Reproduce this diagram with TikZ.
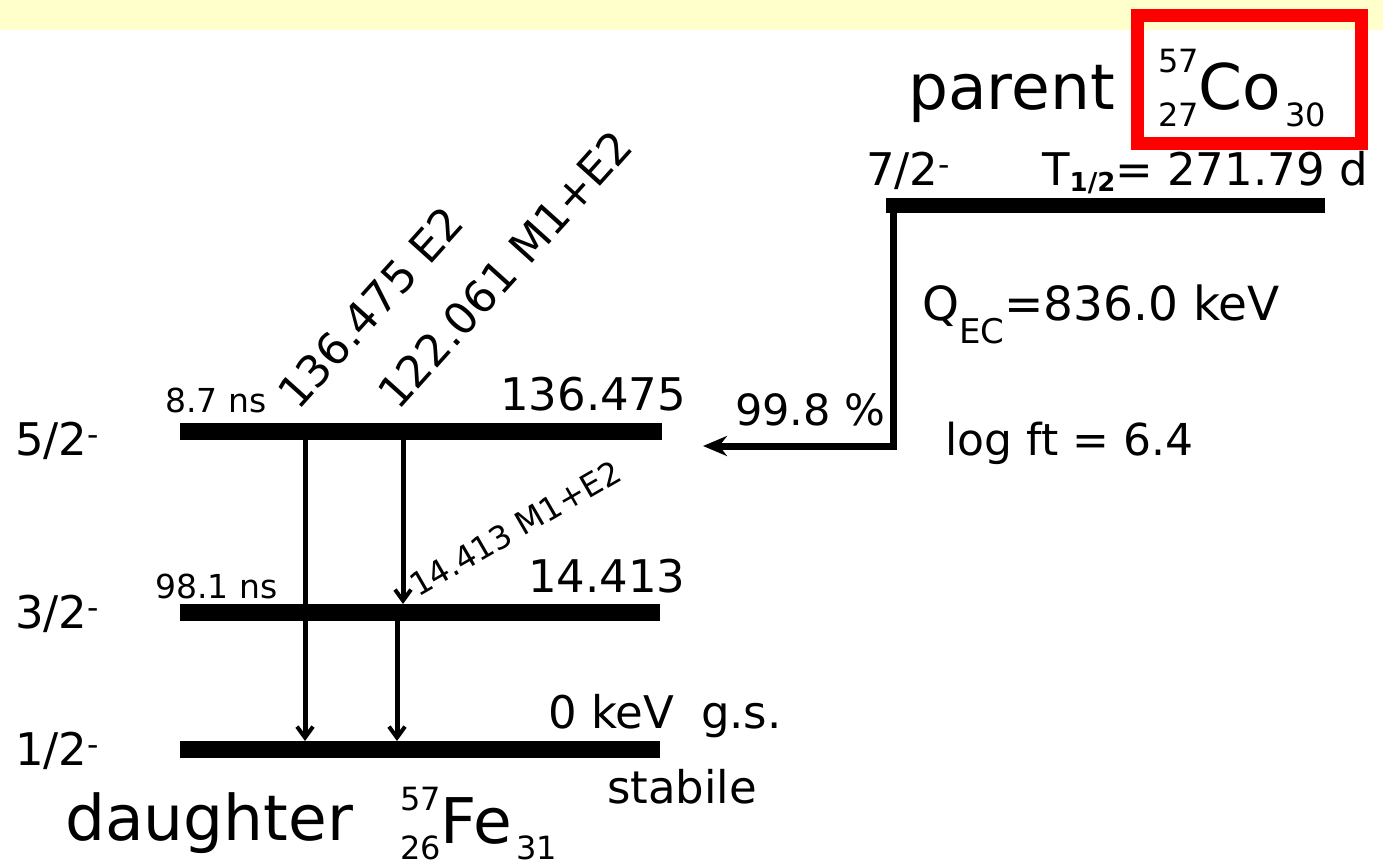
\documentclass[tikz,border=0pt]{standalone}
\usepackage{fontspec}
\setmainfont{DejaVu Sans}
\usetikzlibrary{arrows.meta}
\definecolor{notebg}{HTML}{FFFFCC}
\definecolor{markred}{HTML}{FF0000}
\newcommand\fsz[1]{\fontsize{#1}{#1}\selectfont}
% mass number, charge number, symbol, neutron number
\newcommand\nucl[5]{\rlap{\raisebox{#5em}{\fsz{32}#1}}\raisebox{-0.26em}{\fsz{32}#2}#3\raisebox{-0.26em}{\fsz{32}\hspace{0.12em}#4}}

\begin{document}
\begin{tikzpicture}[x=1pt, y=-1pt,
  level/.style={line width=17pt},
  gamma/.style={line width=5pt, -{Straight Barb[length=11pt, width=16pt, line width=4pt]}},
  lbl/.style={anchor=base west, inner sep=0pt, font=\fsz{45}},
  small/.style={anchor=base west, inner sep=0pt, font=\fsz{33}},
  big/.style={anchor=base west, inner sep=0pt, font=\fsz{63}}]

\useasboundingbox (0,0) rectangle (1383,864);
\fill[notebg] (0,0) rectangle (1383,30);

% parent
\node[big] (par) at (908,110) {parent};
\node[big] (co) at (1158,110) {\nucl{57}{27}{Co}{30}{0.6}};
\draw[markred, line width=13pt] (1137.5,16) rectangle (1361.5,143.5);
\node[lbl] (jp) at (866,185) {7/2\textsuperscript{-}};
\node[lbl] (thalf) at (1042,185) {T\raisebox{-0.15em}{\fsz{26}\bfseries 1/2}= 271.79 d};
\coordinate (pl) at (886,205);
\coordinate (pr) at (1325,205);
\draw[line width=15pt] (pl) -- (pr);

% EC branch
\node[lbl, font=\fsz{47}] (q) at (922,320) {Q\raisebox{-0.5em}{\fsz{34}EC}=836.0 keV};
\node[lbl, font=\fsz{44}] (ft) at (945,455) {log ft = 6.4};
\node[lbl, font=\fsz{43}] (br) at (735,425) {99.8 \%};
\coordinate (ectop) at (893,205);
\coordinate (ecend) at (703,446);
\draw[line width=7pt, -{Stealth[length=24pt, width=20pt]}] (ectop) |- (ecend);

% daughter levels
\coordinate (a1) at (180,431); \coordinate (a2) at (662,431);
\coordinate (b1) at (180,612); \coordinate (b2) at (660,612);
\coordinate (c1) at (180,749); \coordinate (c2) at (660,749);
\draw[level] (a1) -- (a2);
\draw[level] (b1) -- (b2);
\draw[level] (c1) -- (c2);

\node[lbl] (s52) at (15,455) {5/2\textsuperscript{-}};
\node[lbl] (s32) at (15,628) {3/2\textsuperscript{-}};
\node[lbl] (s12) at (15,765) {1/2\textsuperscript{-}};
\node[small] (t52) at (165,412) {8.7 ns};
\node[small] (t32) at (155,598) {98.1 ns};
\node[lbl] (e52) at (500,410) {136.475};
\node[lbl] (e32) at (528,592) {14.413};
\node[lbl] (e12) at (548,728) {0 keV\hspace{0.6em}g.s.};
\node[lbl] (st) at (607,803) {stabile};

% gamma transitions
\coordinate (g1t) at (305,440); \coordinate (g1b) at (305,741);
\coordinate (g2t) at (403,440); \coordinate (g2b) at (403,604);
\coordinate (g3t) at (397,604); \coordinate (g3b) at (397,741);
\draw[gamma] (g1t) -- (g1b);
\draw[gamma] (g2t) -- (g2b);
\draw[gamma] (g3t) -- (g3b);
\node[lbl, font=\fsz{44}, rotate=48] (l1) at (298,412) {136.475 E2};
\node[lbl, font=\fsz{44}, rotate=48] (l2) at (398,412) {122.061 M1+E2};
\node[lbl, font=\fsz{32}, rotate=30] (l3) at (418,598) {14.413 M1+E2};

% daughter
\node[big] (dau) at (65,840) {daughter};
\node[big] (fe) at (400,843) {\nucl{57}{26}{Fe}{31}{0.52}};
\end{tikzpicture}
\end{document}
